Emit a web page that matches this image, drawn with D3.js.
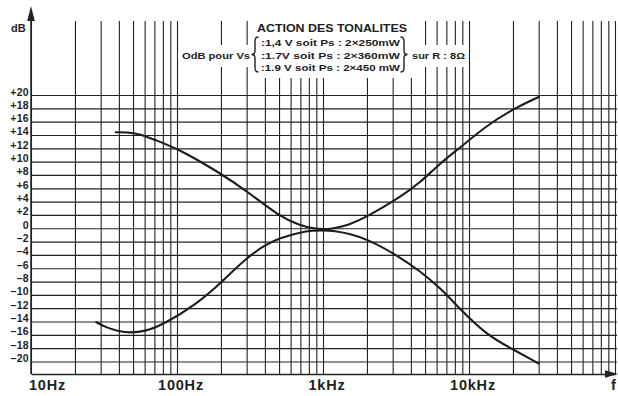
<!DOCTYPE html>
<html>
<head>
<meta charset="utf-8">
<script src="https://cdn.jsdelivr.net/npm/d3@7"></script>
<style>
  body { margin: 0; background: #fff; }
  text { font-family: "Liberation Sans", Arial, sans-serif; font-weight: bold; fill: #1e1e1e; }
</style>
</head>
<body>
<div id="chart"></div>
<script>
// ---- data ----
var dbTicks = [20, 18, 16, 14, 12, 10, 8, 6, 4, 2, 0, -2, -4, -6, -8, -10, -12, -14, -16, -18, -20];
var decadeFreqs = [10, 100, 1000, 10000];
var decadeLabels = ["10Hz", "100Hz", "1kHz", "10kHz"];

// bass + treble boost (upper curve)
var boostFreq = [38, 45, 55, 70, 105, 200, 300, 500, 700, 850, 1000, 1200, 1500, 2000, 3400, 4600, 6300, 8700, 13000, 20000, 30000];
var boostDb   = [14.4, 14.4, 14.2, 13.3, 11.8, 8.2, 5.6, 1.8, 0.4, 0.0, -0.2, 0.0, 0.5, 1.7, 4.7, 6.8, 9.7, 12.1, 15.3, 17.9, 19.7];

// bass + treble cut (lower curve)
var cutFreq = [28, 32, 40, 48, 60, 80, 136, 200, 300, 410, 500, 700, 850, 1000, 1200, 1500, 2000, 3300, 4600, 6300, 8500, 13000, 20000, 30000];
var cutDb   = [-14.1, -14.8, -15.5, -15.7, -15.5, -14.5, -11.4, -8.2, -4.4, -2.4, -1.5, -0.6, -0.35, -0.3, -0.4, -0.8, -1.6, -4.2, -6.4, -8.9, -11.9, -15.9, -18.2, -20.3];

var titleText = "ACTION DES TONALITES";
var voltageLines = [":1,4 V soit  Ps : 2×250mW", ":1.7V soit  Ps : 2×360mW", ":1.9 V soit  Ps : 2×450 mW"];
var leftNote = "OdB pour Vs";
var rightNote = "sur R : 8Ω";

// ---- layout ----
var width = 618, height = 396;
var ink = "#222";
var axisX = 31, axisY = 374, gridTop = 21, gridRight = 617;
var boxLeft = 255, boxRight = 415, boxBottom = 78;   // blank zone under the title block

var x = d3.scaleLog().domain([10, 100000]).range([axisX, 615]);
var y = d3.scaleLinear().domain([-20, 20]).range([361.5, 95]);

var svg = d3.select("#chart").append("svg")
    .attr("width", width)
    .attr("height", height);

svg.append("rect").attr("width", width).attr("height", height).style("fill", "#fff");

// vertical gridlines (1..9 per decade) + frequency axis line
var xg = svg.append("g")
    .attr("class", "xgrid")
    .attr("transform", "translate(0," + axisY + ")")
    .call(d3.axisBottom(x)
        .tickSize(-(axisY - gridTop))
        .tickSizeOuter(0)
        .tickFormat(""));

xg.selectAll(".tick line")
    .filter(function(d) { return x(d) > boxLeft && x(d) < boxRight; })
    .attr("y2", -(axisY - boxBottom));

xg.selectAll("line").style("stroke", ink).style("stroke-width", 1.1);
xg.select(".domain").style("stroke", ink).style("stroke-width", 1.4);

// horizontal gridlines + dB labels
var yg = svg.append("g")
    .attr("class", "ygrid")
    .attr("transform", "translate(" + axisX + ",0)")
    .call(d3.axisLeft(y)
        .tickValues(dbTicks)
        .tickSize(-(gridRight - axisX))
        .tickPadding(2)
        .tickFormat(function(d) { return d > 0 ? "+" + d : (d < 0 ? "–" + Math.abs(d) : "0"); }));

yg.select(".domain").remove();
yg.selectAll("line").style("stroke", ink).style("stroke-width", 1.2);
yg.selectAll("text")
    .attr("dy", "0")
    .style("font-size", "10.5px")
    .style("letter-spacing", "0.3px")
    .style("fill", "#1e1e1e");

// y axis line and arrows
svg.append("line")
    .attr("x1", axisX).attr("x2", axisX)
    .attr("y1", 14).attr("y2", axisY)
    .style("stroke", ink).style("stroke-width", 1.5);

svg.append("path")
    .attr("d", "M" + axisX + ",6L" + (axisX - 3.8) + ",21L" + (axisX + 3.8) + ",21Z")
    .style("fill", ink);

svg.append("path")
    .attr("d", "M618," + axisY + "L605," + (axisY - 3.8) + "L605," + (axisY + 3.8) + "Z")
    .style("fill", ink);

// white gaps behind the side notes
svg.append("rect").attr("x", 179).attr("y", 45).attr("width", 73).attr("height", 22).style("fill", "#fff");
svg.append("rect").attr("x", 409).attr("y", 45).attr("width", 58).attr("height", 22).style("fill", "#fff");

// curves
var valueline = d3.line()
    .x(function(d) { return x(d[0]); })
    .y(function(d) { return y(d[1]); })
    .curve(d3.curveBasis);

[d3.zip(boostFreq, boostDb), d3.zip(cutFreq, cutDb)].forEach(function(series) {
  svg.append("path")
      .datum(series)
      .attr("d", valueline)
      .style("fill", "none")
      .style("stroke", "#1c1c1c")
      .style("stroke-width", 2.1)
      .style("stroke-linecap", "round");
});

// title block
svg.append("text")
    .attr("x", 257).attr("y", 31.5)
    .attr("textLength", 150).attr("lengthAdjust", "spacingAndGlyphs")
    .style("font-size", "10.5px")
    .text(titleText);

var rowY = [46, 58.5, 71];
voltageLines.forEach(function(t, i) {
  svg.append("text")
      .attr("x", 261).attr("y", rowY[i])
      .attr("textLength", 139).attr("lengthAdjust", "spacingAndGlyphs")
      .style("font-size", "9.5px")
      .text(t);
});

svg.append("text")
    .attr("x", 182).attr("y", 58.5)
    .attr("textLength", 68).attr("lengthAdjust", "spacingAndGlyphs")
    .style("font-size", "9.5px")
    .text(leftNote);

svg.append("text")
    .attr("x", 412).attr("y", 58.5)
    .attr("textLength", 53).attr("lengthAdjust", "spacingAndGlyphs")
    .style("font-size", "9.5px")
    .text(rightNote);

// braces
function brace(bx, dir) {
  var t = 37, b = 72, m = (t + b) / 2, w = 3.5 * dir;
  return "M" + (bx + w) + "," + t + "Q" + bx + "," + t + " " + bx + "," + (t + 4) +
         "L" + bx + "," + (m - 3.5) + "Q" + bx + "," + m + " " + (bx - w) + "," + m +
         "Q" + bx + "," + m + " " + bx + "," + (m + 3.5) +
         "L" + bx + "," + (b - 4) + "Q" + bx + "," + b + " " + (bx + w) + "," + b;
}
svg.append("path").attr("d", brace(255, 1)).style("fill", "none").style("stroke", ink).style("stroke-width", 1.4);
svg.append("path").attr("d", brace(404, -1)).style("fill", "none").style("stroke", ink).style("stroke-width", 1.4);

// axis titles
svg.append("text")
    .attr("x", 11).attr("y", 32)
    .style("font-size", "11px")
    .text("dB");

svg.selectAll(".decade")
    .data(decadeFreqs)
  .enter()
    .append("text")
    .attr("class", "decade")
    .attr("x", function(d, i) { return i === 0 ? x(d) - 2 : x(d) + 4; })
    .attr("y", 390)
    .style("text-anchor", function(d, i) { return i === 0 ? "start" : "middle"; })
    .style("font-size", "14.5px")
    .style("letter-spacing", "0.8px")
    .text(function(d, i) { return decadeLabels[i]; });

svg.append("text")
    .attr("x", 611).attr("y", 390)
    .style("font-size", "14.5px")
    .text("f");
</script>
</body>
</html>
